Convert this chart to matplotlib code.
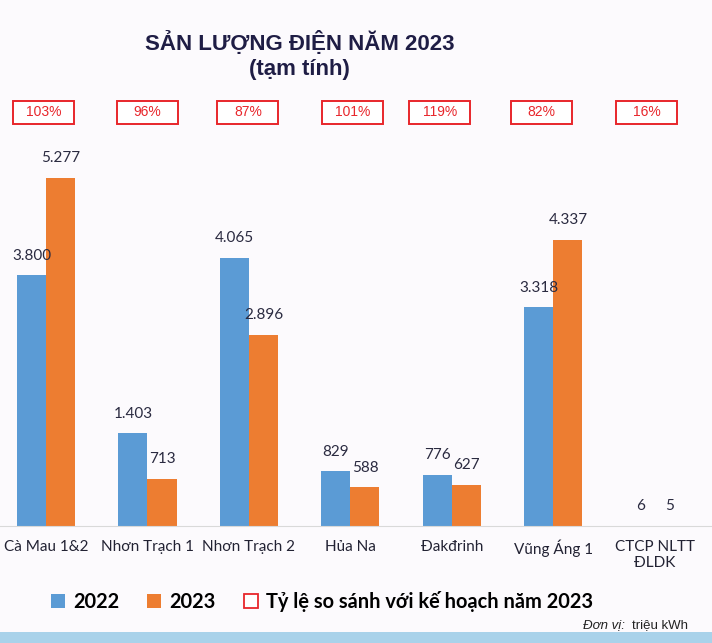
import numpy as np
import matplotlib.pyplot as plt
from matplotlib.patches import Patch, Rectangle
from matplotlib.transforms import blended_transform_factory

categories = ['Cà Mau 1&2', 'Nhơn Trạch 1', 'Nhơn Trạch 2', 'Hủa Na',
              'Đakđrinh', 'Vũng Áng 1', 'CTCP NLTT\nĐLDK']
y2022 = [3800, 1403, 4065, 829, 776, 3318, 6]
y2023 = [5277, 713, 2896, 588, 627, 4337, 5]
ratio = ['103%', '96%', '87%', '101%', '119%', '82%', '16%']

blue = '#5b9bd5'
orange = '#ed7d31'
navy = '#1f1d45'
red = '#e8262b'
bg = '#fcfafd'

def fmt(v):
    return f'{v:,}'.replace(',', '.')

fig = plt.figure(figsize=(7.12, 6.43), dpi=100, facecolor=bg)
ax = fig.add_axes([0, 0.182, 1, 0.6003], facecolor=bg)

x = np.arange(len(categories))
w = 0.286
b1 = ax.bar(x - w / 2, y2022, w, color=blue)
b2 = ax.bar(x + w / 2, y2023, w, color=orange)

for bars, vals in ((b1, y2022), (b2, y2023)):
    for r, v in zip(bars, vals):
        ax.text(r.get_x() + r.get_width() / 2, v + 190, fmt(v), ha='center',
                va='bottom', fontsize=11, color='#2a2a40', family='Lato')

ax.set_xlim(-0.453, 6.562)
ax.set_ylim(0, 5853)
ax.set_yticks([])
ax.set_xticks(x)
ax.set_xticklabels(categories, fontsize=11, family='Lato', color='#222233')
ax.tick_params(axis='x', length=0, pad=10)
for s in ['top', 'left', 'right']:
    ax.spines[s].set_visible(False)
ax.spines['bottom'].set_color('#d9d9d9')

# ratio boxes (fixed size, slight horizontal nudges as in the original slide)
tr = blended_transform_factory(ax.transData, fig.transFigure)
shift_px = [-2, 0, -1, 2, -12, -12, -8]
px = 7.015 / 712  # data units per pixel
bw, bh = 61 * px, 23 / 643
yc = 1 - 112.5 / 643
for xi, r, s in zip(x, ratio, shift_px):
    cx = xi + s * px
    ax.add_patch(Rectangle((cx - bw / 2, yc - bh / 2), bw, bh, transform=tr,
                           facecolor='white', edgecolor=red, lw=1.4, clip_on=False))
    ax.text(cx, yc, r, transform=tr, ha='center', va='center',
            fontsize=10, color=red, family='Liberation Sans', clip_on=False)

fig.text(0.421, 1 - 43 / 643, 'SẢN LƯỢNG ĐIỆN NĂM 2023', ha='center', va='center',
         fontsize=16, fontweight='bold', color=navy, family='Liberation Sans')
fig.text(0.421, 1 - 70 / 643, '(tạm tính)', ha='center', va='center',
         fontsize=16, fontweight='bold', color=navy, family='Liberation Sans')

handles = [Patch(facecolor=blue), Patch(facecolor=orange),
           Patch(facecolor='white', edgecolor=red, lw=1.3)]
labels = ['2022', '2023', 'Tỷ lệ so sánh với kế hoạch năm 2023']
fig.legend(handles, labels, loc='center', bbox_to_anchor=(0.452, 1 - 601 / 643),
           ncol=3, frameon=False, handlelength=0.7, handleheight=0.7,
           handletextpad=0.4, columnspacing=1.4,
           prop={'family': 'Lato', 'weight': 'bold', 'size': 14.4})

fig.text(0.819, 1 - 625 / 643, 'Đơn vị:', ha='left', va='center',
         fontsize=9.5, color='#222222', family='Liberation Sans', style='italic')
fig.text(0.966, 1 - 625 / 643, 'triệu kWh', ha='right', va='center',
         fontsize=9.5, color='#222222', family='Liberation Sans')

fig.patches.append(Rectangle((0, 0), 1, 11 / 643, transform=fig.transFigure,
                             facecolor='#a9d2ea', edgecolor='none'))

fig.savefig('out.png', dpi=100, facecolor=bg)
